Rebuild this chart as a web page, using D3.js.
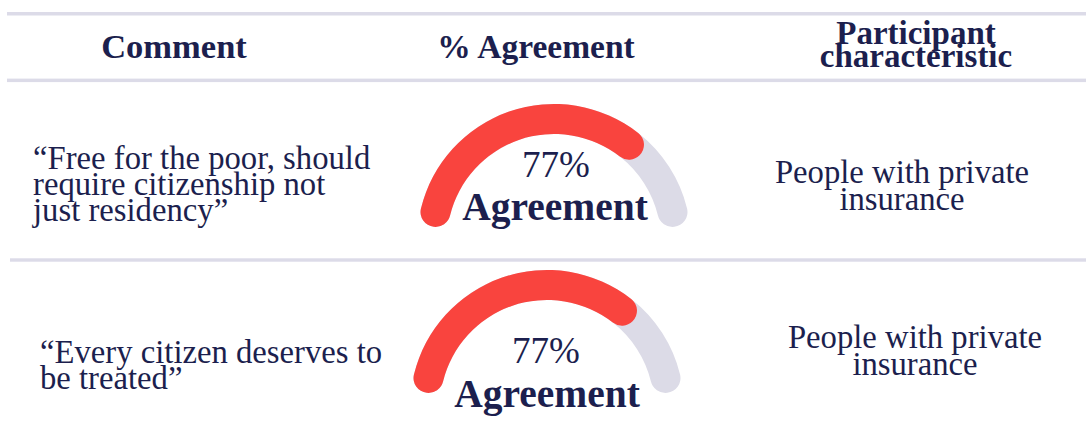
<!DOCTYPE html>
<html>
<head>
<meta charset="utf-8">
<script src="https://cdn.jsdelivr.net/npm/d3@7"></script>
<style>
  html, body { margin: 0; padding: 0; background: #ffffff; }
  svg { display: block; }
  text { font-family: "Liberation Serif", "DejaVu Serif", serif; fill: #1c1f4e; }
</style>
</head>
<body>
<svg id="chart" width="1086" height="439"></svg>
<script>
// ---- data ----
const headers = ["Comment", "% Agreement", ["Participant", "characteristic"]];
const comments = [
  ["“Free for the poor, should", "require citizenship not", "just residency”"],
  ["“Every citizen deserves to", "be treated”"]
];
const agreement = [77, 77];
const agreementLabel = "Agreement";
const characteristics = [
  ["People with private", "insurance"],
  ["People with private", "insurance"]
];

// ---- layout ----
const W = 1086, H = 439;
const svg = d3.select("#chart");
const navy = "#1c1f4e", red = "#f9443e", track = "#dcdbe7", rule = "#dcdbe8";

// rules
const rules = [
  {x: 7, y: 12, h: 3.5},
  {x: 7, y: 78.6, h: 3.5},
  {x: 10, y: 258.3, h: 3.4}
];
svg.selectAll("rect.rule").data(rules).join("rect")
  .attr("class", "rule")
  .attr("x", d => d.x).attr("y", d => d.y)
  .attr("width", d => W - d.x).attr("height", d => d.h)
  .attr("fill", rule);

// header
const hdr = svg.append("g").attr("font-weight", "bold");
hdr.append("text").attr("x", 174).attr("y", 58).attr("font-size", 34.5)
  .attr("text-anchor", "middle").text(headers[0]);
hdr.append("text").attr("x", 536).attr("y", 58).attr("font-size", 33.5)
  .attr("text-anchor", "middle").text(headers[1]);
hdr.selectAll("text.h3").data(headers[2]).join("text")
  .attr("class", "h3")
  .attr("x", 916).attr("y", (d, i) => 44 + i * 23)
  .attr("font-size", 33)
  .attr("text-anchor", "middle").text(d => d);

// rows
const rowLayout = [
  {cx: 554, cy: 241, comX: 33, comY: 169, pctX: 556, pctY: 177, agX: 555, agY: 220, chX: 902, chY: 183},
  {cx: 547, cy: 407, comX: 40, comY: 363, pctX: 546, pctY: 363, agX: 547, agY: 407, chX: 915, chY: 348}
];

const span = 83.3 * Math.PI / 180;
const angle = d3.scaleLinear().domain([0, 100]).range([-span, span]);
const rMid = 122, thick = 30;
const arc = d3.arc()
  .innerRadius(rMid - thick / 2)
  .outerRadius(rMid + thick / 2)
  .cornerRadius(thick / 2);

rowLayout.forEach((L, i) => {
  const g = svg.append("g");
  // comment
  g.selectAll("text.com").data(comments[i]).join("text")
    .attr("class", "com")
    .attr("x", L.comX).attr("y", (d, j) => L.comY + j * 26)
    .attr("font-size", 32.7).text(d => d);
  // gauge
  const gg = g.append("g").attr("transform", `translate(${L.cx},${L.cy})`);
  gg.append("path").attr("d", arc({startAngle: angle(0), endAngle: angle(100)})).attr("fill", track);
  gg.append("path").attr("d", arc({startAngle: angle(0), endAngle: angle(agreement[i])})).attr("fill", red);
  g.append("text").attr("x", L.pctX).attr("y", L.pctY)
    .attr("text-anchor", "middle").attr("font-size", 37)
    .text(agreement[i] + "%");
  g.append("text").attr("x", L.agX).attr("y", L.agY)
    .attr("text-anchor", "middle").attr("font-size", 39.5).attr("font-weight", "bold")
    .text(agreementLabel);
  // characteristic
  g.selectAll("text.ch").data(characteristics[i]).join("text")
    .attr("class", "ch")
    .attr("x", L.chX).attr("y", (d, j) => L.chY + j * 27)
    .attr("text-anchor", "middle").attr("font-size", 32.7).text(d => d);
});
</script>
</body>
</html>
